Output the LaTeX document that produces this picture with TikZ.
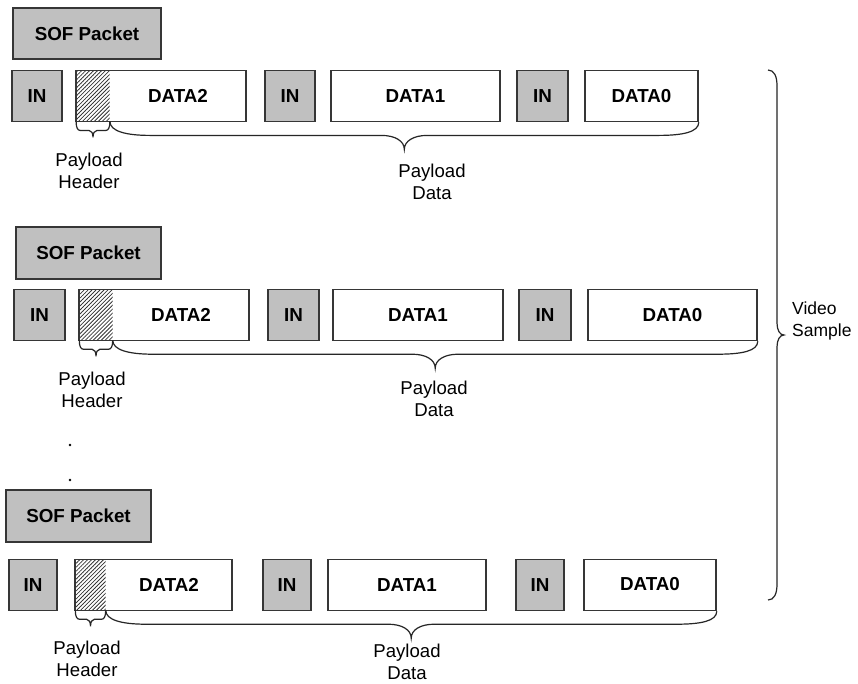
\documentclass[tikz,border=0pt]{standalone}
\usepackage{fontspec}
\setmainfont{Liberation Sans}
\usetikzlibrary{calc,patterns.meta}

\definecolor{edge}{HTML}{363636}
\definecolor{shade}{HTML}{C0C0C0}

\tikzset{
  box/.style={draw=edge, line width=1.5pt, inner sep=0pt, minimum height=51pt,
              font=\fontsize{18.8}{22}\selectfont\bfseries},
  inbox/.style={box, fill=shade, minimum width=50pt},
  databox/.style={box, fill=white},
  sofbox/.style={box, fill=shade},
  hdrfill/.style={draw=none, inner sep=0pt, minimum height=50pt,
                  pattern={Lines[angle=45,distance=2.8pt,line width=0.8pt]},
                  pattern color=edge},
  lbl/.style={align=center, inner sep=0pt, font=\fontsize{18.6}{22}\selectfont},
  brc/.style={draw=black!85, line width=1.2pt},
  dot/.style={fill=black},
}

% downward curly brace between two points on the same height:
% #3 depth of the straight part, #4 depth of the tip,
% #5 length of the end curls, #6 half width of the tip
\newcommand\downbrace[6]{%
  \draw[brc] let \p1=(#1), \p2=(#2), \p3=($(#1)!0.5!(#2)$) in
    (\p1) .. controls +(0pt,-0.7*#3) and +(-0.6*#5,0pt) .. (\x1+#5,\y1-#3)
    -- (\x3-#6,\y1-#3) .. controls +(0.6*#6,0pt) and +(0pt,0.6*#4-0.6*#3) .. (\x3,\y1-#4)
    .. controls +(0pt,0.6*#4-0.6*#3) and +(-0.6*#6,0pt) .. (\x3+#6,\y1-#3)
    -- (\x2-#5,\y1-#3) .. controls +(0.6*#5,0pt) and +(0pt,-0.7*#3) .. (\p2);
}

% rightward curly brace between a top and a bottom point
\newcommand\rightbrace[6]{%
  \draw[brc] let \p1=(#1), \p2=(#2), \p3=($(#1)!0.5!(#2)$) in
    (\p1) .. controls +(0.7*#3,0pt) and +(0pt,0.6*#5) .. (\x1+#3,\y1-#5)
    -- (\x1+#3,\y3+#6) .. controls +(0pt,-0.6*#6) and +(-0.6*#4+0.6*#3,0pt) .. (\x1+#4,\y3)
    .. controls +(-0.6*#4+0.6*#3,0pt) and +(0pt,0.6*#6) .. (\x1+#3,\y3-#6)
    -- (\x1+#3,\y2+#5) .. controls +(0pt,-0.6*#5) and +(0.7*#3,0pt) .. (\p2);
}

\begin{document}
\begin{tikzpicture}[x=1pt,y=-1pt]
  \fill[white] (0,0) rectangle (858,683);
  \useasboundingbox (0,0) rectangle (858,683);

  % ---- first packet ----
  \node[sofbox, minimum width=148pt] (sof1) at (87,33.5) {SOF Packet};
  \node[inbox] (in1a) at (37,96) {IN};
  \node[databox, minimum width=170pt] (d2a) at (161,96) {\hspace*{34pt}DATA2};
  \node[hdrfill, minimum width=33pt] (hd1) at (93,96) {};
  \node[inbox] (in1b) at (290,96) {IN};
  \node[databox, minimum width=169pt] (d1a) at (415.5,96) {DATA1};
  \node[inbox, minimum width=51pt] (in1c) at (542.5,96) {IN};
  \node[databox, minimum width=113pt] (d0a) at (641.5,96) {DATA0};

  \downbrace{hd1.south west}{hd1.south east}{9pt}{16pt}{4pt}{4pt}
  \downbrace{hd1.south east}{d0a.south east}{14pt}{28pt}{40pt}{23pt}
  \node[lbl] (ph1) at (89,171) {Payload\\Header};
  \node[lbl] (pd1) at (432,182) {Payload\\Data};

  % ---- second packet ----
  \node[sofbox, minimum width=145pt, minimum height=52pt] (sof2) at (88.5,253) {SOF Packet};
  \node[inbox, minimum width=51pt] (in2a) at (39.5,315) {IN};
  \node[databox, minimum width=170pt] (d2b) at (164,315) {\hspace*{34pt}DATA2};
  \node[hdrfill, minimum width=33pt] (hd2) at (96,315) {};
  \node[inbox, minimum width=51pt] (in2b) at (293.5,315) {IN};
  \node[databox, minimum width=170pt] (d1b) at (418,315) {DATA1};
  \node[inbox, minimum width=52pt] (in2c) at (545,315) {IN};
  \node[databox, minimum width=169pt] (d0b) at (672.5,315) {DATA0};

  \downbrace{hd2.south west}{hd2.south east}{9pt}{16pt}{4pt}{4pt}
  \downbrace{hd2.south east}{d0b.south east}{14pt}{28pt}{40pt}{23pt}
  \node[lbl] (ph2) at (92,390) {Payload\\Header};
  \node[lbl] (pd2) at (434,399) {Payload\\Data};

  % ---- more packets follow ----
  \fill[dot] (70,445) circle (1.3pt);
  \fill[dot] (70,480) circle (1.3pt);

  % ---- last packet ----
  \node[sofbox, minimum width=145pt, minimum height=52pt] (sof3) at (78.5,516) {SOF Packet};
  \node[inbox, minimum width=48pt] (in3a) at (33,585) {IN};
  \node[databox, minimum width=157pt] (d2c) at (153.5,585) {\hspace*{31pt}DATA2};
  \node[hdrfill, minimum width=30pt] (hd3) at (90.5,585) {};
  \node[inbox, minimum width=48pt] (in3b) at (287,585) {IN};
  \node[databox, minimum width=158pt] (d1c) at (407,585) {DATA1};
  \node[inbox, minimum width=48pt] (in3c) at (540,585) {IN};
  \node[databox, minimum width=132pt] (d0c) at (650,585) {\raisebox{2pt}{DATA0}};

  \downbrace{hd3.south west}{hd3.south east}{9pt}{16pt}{4pt}{4pt}
  \downbrace{hd3.south east}{d0c.south east}{14pt}{28pt}{40pt}{23pt}
  \node[lbl] (ph3) at (87,659) {Payload\\Header};
  \node[lbl] (pd3) at (407,662) {Payload\\Data};

  % ---- the whole video sample ----
  \coordinate (vtop) at (768,70);
  \coordinate (vbot) at (768,600);
  \rightbrace{vtop}{vbot}{9pt}{16pt}{16pt}{12pt}
  \node[lbl, align=left, anchor=west, font=\fontsize{17.5}{22}\selectfont] (vs) at (792,321) {Video\\Sample};
\end{tikzpicture}
\end{document}
